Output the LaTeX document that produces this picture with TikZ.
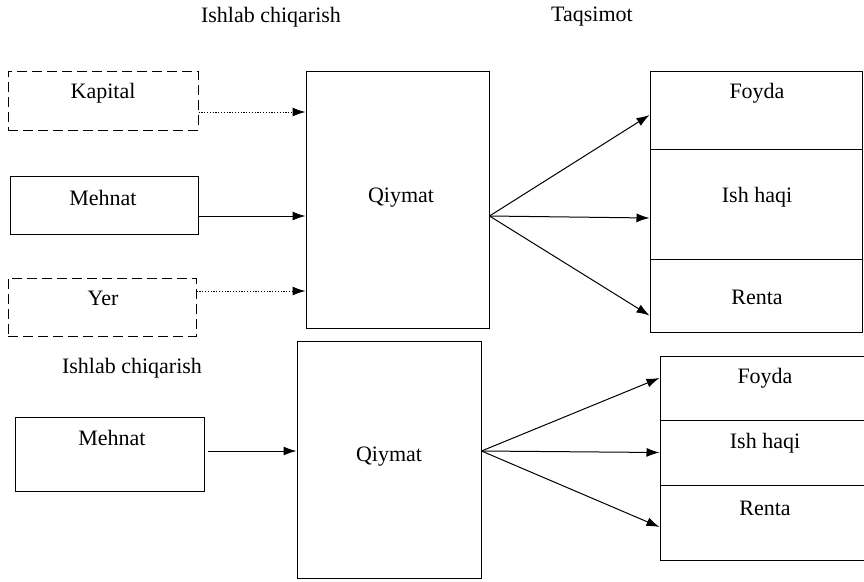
\documentclass[tikz,border=0pt]{standalone}
\usepackage{fontspec}
\setmainfont{Liberation Serif}
\usetikzlibrary{arrows.meta}
\begin{document}
\begin{tikzpicture}[x=1pt,y=-1pt,
  every node/.style={font=\fontsize{22}{26}\selectfont},
  box/.style={draw, line width=1pt, inner sep=0pt},
  dbox/.style={box, dash pattern=on 10pt off 5pt},
  txt/.style={inner sep=1pt},
  arr/.style={line width=1pt, -{Latex[length=13pt,width=9pt]}},
  darr/.style={arr, dash pattern=on 1.2pt off 1.6pt}]
\useasboundingbox (0,0) rectangle (864,581);
% titles
\node[txt] (t1) at (271,17) {Ishlab chiqarish};
\node[txt] (t2) at (592,17) {Taqsimot};
\node[txt] (t3) at (132,368) {Ishlab chiqarish};
% top left boxes
\node[dbox, minimum width=190pt, minimum height=59pt] (k) at (103,100.5) {};
\node[txt] (tk) at (103,93) {Kapital};
\node[box, minimum width=188pt, minimum height=58pt] (m1) at (104,205) {};
\node[txt] (tm1) at (103,198) {Mehnat};
\node[dbox, minimum width=188pt, minimum height=58pt] (y) at (102,307) {};
\node[txt] (ty) at (103,298) {Yer};
% top value box
\node[box, minimum width=183pt, minimum height=257pt] (q1) at (397.5,199.5) {};
\node[txt] (tq1) at (401,198) {Qiymat};
% top right stack
\node[box, minimum width=212pt, minimum height=78pt] (f1) at (756,110) {};
\node[box, minimum width=212pt, minimum height=110pt] (i1) at (756,204) {};
\node[box, minimum width=212pt, minimum height=73pt] (r1) at (756,295.5) {};
\node[txt] (tf1) at (757,93) {Foyda};
\node[txt] (ti1) at (757,197) {Ish haqi};
\node[txt] (tr1) at (757,297) {Renta};
% top arrows
\draw[darr] ([yshift=-11.5pt]k.east) -- ([yshift=-11.5pt]k.east -| q1.west);
\draw[arr] ([yshift=-11pt]m1.east) -- ([yshift=-11pt]m1.east -| q1.west);
\draw[darr] ([yshift=16pt]y.east) -- ([yshift=16pt]y.east -| q1.west);
\draw[arr] ([yshift=-16.5pt]q1.east) -- ([yshift=-5pt]f1.west);
\draw[arr] ([yshift=-16.5pt]q1.east) -- ([yshift=-14pt]i1.west);
\draw[arr] ([yshift=-16.5pt]q1.east) -- ([yshift=-20pt]r1.west);
% bottom section
\node[box, minimum width=189pt, minimum height=74pt] (m2) at (109.5,454) {};
\node[txt] (tm2) at (112,438) {Mehnat};
\node[box, minimum width=184pt, minimum height=237pt] (q2) at (389,459.5) {};
\node[txt] (tq2) at (389,457) {Qiymat};
\node[box, minimum width=204pt, minimum height=64pt] (f2) at (762,388) {};
\node[box, minimum width=204pt, minimum height=65pt] (i2) at (762,452.5) {};
\node[box, minimum width=204pt, minimum height=75pt] (r2) at (762,522.5) {};
\node[txt] (tf2) at (765,378) {Foyda};
\node[txt] (ti2) at (765,443) {Ish haqi};
\node[txt] (tr2) at (765,508) {Renta};
\draw[arr] ([xshift=3pt,yshift=3pt]m2.east) -- ([yshift=3pt]m2.east -| q2.west);
\draw[arr] ([yshift=8.5pt]q2.east) -- ([yshift=10pt]f2.west);
\draw[arr] ([yshift=8.5pt]q2.east) -- ([yshift=0pt]i2.west);
\draw[arr] ([yshift=8.5pt]q2.east) -- ([yshift=-4.5pt]r2.west);
\end{tikzpicture}
\end{document}
